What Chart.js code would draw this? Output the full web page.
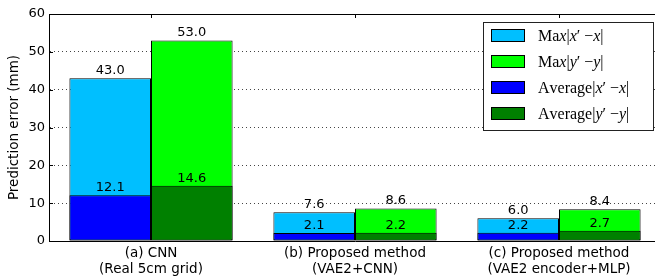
<!DOCTYPE html>
<html>
<head>
<meta charset="utf-8">
<script src="https://cdn.jsdelivr.net/npm/chart.js@4"></script>
<style>
  html, body { margin: 0; padding: 0; overflow: hidden; background: #fff; }
  #wrap { width: 665px; height: 277px; }
</style>
</head>
<body>
<div id="wrap"><canvas id="errChart"></canvas></div>
<script>
const categories = [
    ['(a) CNN', '(Real 5cm grid)'],
    ['(b) Proposed method', '(VAE2+CNN)'],
    ['(c) Proposed method', '(VAE2 encoder+MLP)']
];
const seriesLabels = ['Max|x′ −x|', 'Max|y′ −y|', 'Average|x′ −x|', 'Average|y′ −y|'];
const maxX = [43.0, 7.6, 6.0];
const maxY = [53.0, 8.6, 8.4];
const avgX = [12.1, 2.1, 2.2];
const avgY = [14.6, 2.2, 2.7];
const yTicks = [0, 10, 20, 30, 40, 50, 60];

const sans = '"DejaVu Sans", sans-serif';

// value labels above each bar
const barLabels = {
    id: 'barLabels',
    afterDatasetsDraw(chart) {
        const ctx = chart.ctx;
        ctx.save();
        ctx.font = '13px ' + sans;
        ctx.fillStyle = '#000';
        ctx.textAlign = 'center';
        ctx.textBaseline = 'bottom';
        chart.data.datasets.forEach((ds, i) => {
            chart.getDatasetMeta(i).data.forEach((bar, j) => {
                ctx.fillText(ds.data[j].toFixed(1), bar.x, bar.y - 1);
            });
        });
        ctx.restore();
    }
};

// top border, inner ticks and boxed legend inside the plot
const frameAndLegend = {
    id: 'frameAndLegend',
    afterDraw(chart) {
        const ctx = chart.ctx;
        const a = chart.chartArea;
        const x = chart.scales.x, y = chart.scales.y;
        ctx.save();
        ctx.strokeStyle = '#000';
        ctx.lineWidth = 1;
        ctx.beginPath();
        ctx.moveTo(a.left, a.top + 0.5);
        ctx.lineTo(a.right, a.top + 0.5);
        yTicks.forEach(v => {
            const py = Math.round(y.getPixelForValue(v)) + 0.5;
            ctx.moveTo(a.left, py);
            ctx.lineTo(a.left + 4, py);
        });
        categories.forEach((c, i) => {
            const px = Math.round(x.getPixelForValue(i)) + 0.5;
            ctx.moveTo(px, a.top);
            ctx.lineTo(px, a.top + 4);
        });
        ctx.stroke();

        const w = 170, h = 108;
        const left = Math.round(a.right - 8 - w), top = Math.round(a.top + 8);
        ctx.fillStyle = '#fff';
        ctx.fillRect(left, top, w, h);
        ctx.strokeStyle = '#222';
        ctx.strokeRect(left + 0.5, top + 0.5, w, h);
        chart.data.datasets.forEach((ds, i) => {
            const cy = top + 14 + i * 26;
            ctx.fillStyle = ds.backgroundColor;
            ctx.fillRect(left + 8.5, cy - 6.5, 33, 12);
            ctx.strokeStyle = '#000';
            ctx.strokeRect(left + 8.5, cy - 6.5, 33, 12);
            // math-like label: x and y in italics
            let tx = left + 55;
            ctx.fillStyle = '#000';
            ctx.textBaseline = 'middle';
            for (const ch of ds.label) {
                const it = (ch === 'x' || ch === 'y');
                ctx.font = (it ? 'italic ' : '') + '16px "Liberation Serif", serif';
                ctx.fillText(ch, tx, cy + 1);
                tx += ctx.measureText(ch).width;
            }
        });
        ctx.restore();
    }
};

new Chart(document.getElementById('errChart').getContext('2d'), {
    type: 'bar',
    data: {
        labels: categories,
        datasets: [
            { label: seriesLabels[0], data: maxX, stack: 'x', order: 2, backgroundColor: '#00bfff' },
            { label: seriesLabels[1], data: maxY, stack: 'y', order: 2, backgroundColor: '#00ff00' },
            { label: seriesLabels[2], data: avgX, stack: 'x', order: 1, backgroundColor: '#0000ff' },
            { label: seriesLabels[3], data: avgY, stack: 'y', order: 1, backgroundColor: '#008000' }
        ]
    },
    options: {
        responsive: true,
        maintainAspectRatio: false,
        animation: false,
        events: [],
        layout: { padding: { top: 14, right: 4, left: 0, bottom: 0 } },
        datasets: {
            bar: {
                categoryPercentage: 0.8,
                barPercentage: 1.0,
                borderColor: '#000',
                borderWidth: 1,
                borderSkipped: false
            }
        },
        plugins: {
            legend: { display: false },
            tooltip: { enabled: false }
        },
        scales: {
            x: {
                stacked: true,
                grid: { display: false, drawTicks: false },
                border: { display: true, color: '#000', width: 1 },
                ticks: { color: '#000', font: { family: sans, size: 13.5 }, padding: 4, maxRotation: 0 },
                afterFit(scale) { scale.height = 36; }
            },
            y: {
                stacked: false,
                min: 0,
                max: 60,
                afterBuildTicks(scale) { scale.ticks = yTicks.map(v => ({ value: v })); },
                grid: {
                    drawTicks: false,
                    color: c => (c.tick && (c.tick.value === 0 || c.tick.value === 60)) ? 'rgba(0,0,0,0)' : '#444',
                    lineWidth: 1
                },
                border: { display: true, color: '#000', width: 1, dash: [1, 3] },
                ticks: { color: '#000', font: { family: sans, size: 13 }, padding: 4 },
                title: {
                    display: true,
                    text: 'Prediction error (mm)',
                    color: '#000',
                    font: { family: sans, size: 13.5 },
                    padding: { top: 6, bottom: 0 }
                },
                afterFit(scale) { scale.width = 49; }
            }
        }
    },
    plugins: [barLabels, frameAndLegend]
});
</script>
</body>
</html>
